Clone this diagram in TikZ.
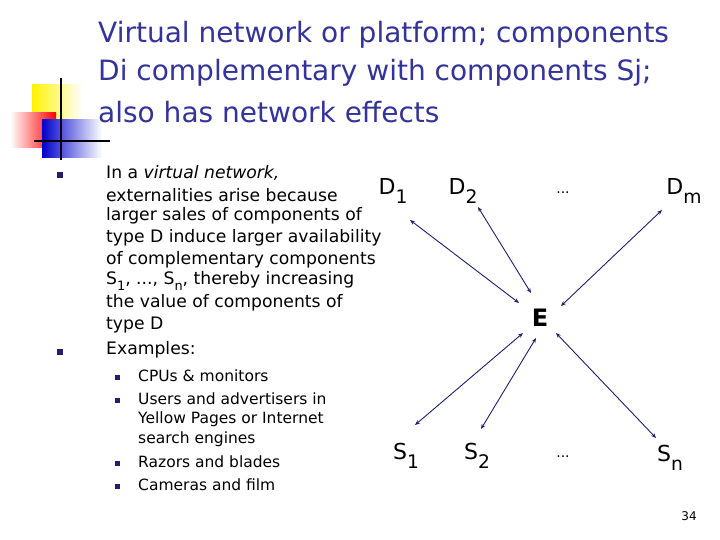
\documentclass[tikz,border=0pt]{standalone}
\usepackage{fontspec}
\setmainfont{DejaVu Sans}
\usetikzlibrary{arrows.meta}
\definecolor{ttl}{HTML}{333399}
\definecolor{nav}{HTML}{1F1F6E}
\newcommand{\mysb}[1]{\raisebox{-0.3em}{\scalebox{0.75}{#1}}}
\newcommand{\mylsb}[1]{\raisebox{-0.4em}{\scalebox{0.85}{#1}}}
\tikzset{
  title/.style={anchor=west,text=ttl,font=\fontsize{28}{32}\selectfont,inner sep=0},
  body/.style={anchor=west,font=\fontsize{17.2}{20}\selectfont,inner sep=0},
  sub/.style={anchor=west,font=\fontsize{15.5}{18}\selectfont,inner sep=0},
  lbl/.style={font=\fontsize{22}{24}\selectfont,inner sep=0},
  blt/.style={fill=nav,minimum size=6pt,inner sep=0},
  sblt/.style={fill=nav,minimum size=5pt,inner sep=0},
  arr/.style={draw=nav,line width=0.9pt,{Stealth[length=5pt,width=4pt]}-{Stealth[length=5pt,width=4pt]}}
}
\begin{document}
\begin{tikzpicture}[x=1pt,y=-1pt]
\useasboundingbox (0,0) rectangle (720,540);
\fill[white] (0,0) rectangle (720,540);
% logo
\shade[left color=yellow!90!orange,right color=white] (32,85) rectangle (82,122);
\shade[left color=white,right color=red] (10,113) rectangle (56,148);
\shade[left color=blue!80!black,right color=white] (42,120) rectangle (102,158);
\draw[black,line width=2.5pt] (61,78) -- (61,160);
\draw[black,line width=2pt] (34,141) -- (110,141);
% title
\node[title] (t1) at (98,35) {Virtual network or platform; components};
\node[title] (t2) at (98,73) {Di complementary with components Sj;};
\node[title] (t3) at (98,112) {also has network effects};
% body
\node[blt] (b1) at (60,175) {};
\node[body] (l1) at (106,173) {In a \textit{virtual network,}};
\node[body] (l2) at (106,195) {externalities arise because};
\node[body] (l3) at (106,216) {larger sales of components of};
\node[body] (l4) at (106,238) {type D induce larger availability};
\node[body] (l5) at (106,260) {of complementary components};
\node[body] (l6) at (106,281) {S\mysb{1}, ..., S\mysb{n}, thereby increasing};
\node[body] (l7) at (106,303) {the value of components of};
\node[body] (l8) at (106,325) {type D};
\node[blt] (b2) at (60,352) {};
\node[body] (l9) at (106,350) {Examples:};
\node[sblt] (s1) at (117,377) {};
\node[sub] (e1) at (138,376) {CPUs \& monitors};
\node[sblt] (s2) at (117,400) {};
\node[sub] (e2) at (138,399) {Users and advertisers in};
\node[sub] (e3) at (138,419) {Yellow Pages or Internet};
\node[sub] (e4) at (138,439) {search engines};
\node[sblt] (s3) at (117,463) {};
\node[sub] (e5) at (138,462) {Razors and blades};
\node[sblt] (s4) at (117,486) {};
\node[sub] (e6) at (138,485) {Cameras and film};
% diagram
\node[lbl] (D1) at (393,191) {D\mylsb{1}};
\node[lbl] (D2) at (463,191) {D\mylsb{2}};
\node[lbl,font=\fontsize{14}{16}\selectfont] (Dd) at (563,193) {...};
\node[lbl] (Dm) at (684,191) {D\mylsb{m}};
\node[lbl] (S1) at (406,456) {S\mylsb{1}};
\node[lbl] (S2) at (477,456) {S\mylsb{2}};
\node[lbl,font=\fontsize{14}{16}\selectfont] (Sd) at (563,457) {...};
\node[lbl] (Sn) at (670,458) {S\mylsb{n}};
\node[font=\bfseries\fontsize{24}{26}\selectfont,inner sep=0] (E) at (540,318) {E};
\coordinate (d1) at (410,220); \coordinate (ed1) at (519,303);
\coordinate (d2) at (478,207); \coordinate (ed2) at (531,293);
\coordinate (dm) at (662,210); \coordinate (edm) at (561,306);
\coordinate (s1a) at (415,425); \coordinate (es1) at (523,333);
\coordinate (s2a) at (481,429); \coordinate (es2) at (536,338);
\coordinate (sna) at (656,438); \coordinate (esn) at (556,333);
\draw[arr] (d1) -- (ed1);
\draw[arr] (d2) -- (ed2);
\draw[arr] (dm) -- (edm);
\draw[arr] (s1a) -- (es1);
\draw[arr] (s2a) -- (es2);
\draw[arr] (sna) -- (esn);
\node[font=\fontsize{12}{14}\selectfont] (pg) at (689,516) {34};
\end{tikzpicture}
\end{document}
